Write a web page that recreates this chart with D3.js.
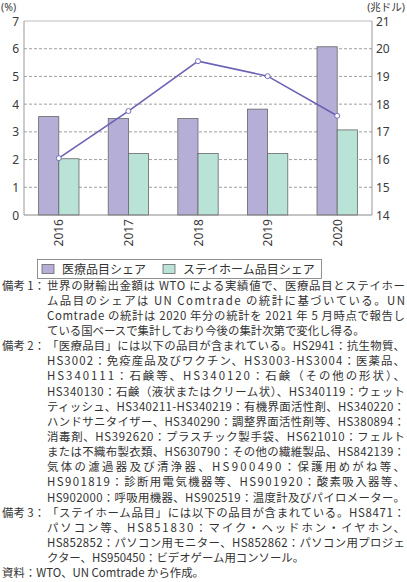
<!DOCTYPE html>
<html>
<head>
<meta charset="utf-8">
<script src="https://cdn.jsdelivr.net/npm/d3@7"></script>
<style>
  body { margin: 0; background: #fff; }
  text { font-family: "Noto Sans CJK JP", "Noto Sans", sans-serif; fill: #333; }
  text.num { font-family: "Noto Sans", "Noto Sans CJK JP", sans-serif; fill: #3a3a3a; }
</style>
</head>
<body>
<svg width="407" height="582"></svg>
<script>
let years = ['2016', '2017', '2018', '2019', '2020'];
let medicalShare = [3.55, 3.48, 3.48, 3.82, 6.07];
let stayHomeShare = [2.03, 2.22, 2.22, 2.22, 3.07];
let exportTotal = [16.05, 17.75, 19.55, 19.01, 17.58];
let leftTicks = [0, 1, 2, 3, 4, 5, 6, 7];
let rightTicks = [14, 15, 16, 17, 18, 19, 20, 21];
let seriesNames = ['医療品目シェア', 'ステイホーム品目シェア'];

// notes: [label, lines, lastLineJustified]
let notes = [
  ['備考 1：', [
    '世界の財輸出金額は WTO による実績値で、医療品目とステイホー',
    'ム品目のシェアは UN Comtrade の統計に基づいている。UN',
    'Comtrade の統計は 2020 年分の統計を 2021 年 5 月時点で報告し',
    'ている国ベースで集計しており今後の集計次第で変化し得る。'], false],
  ['備考 2：', [
    '「医療品目」には以下の品目が含まれている。HS2941：抗生物質、',
    'HS3002：免疫産品及びワクチン、HS3003-HS3004：医薬品、',
    'HS340111：石鹸等、HS340120：石鹸（その他の形状）、',
    'HS340130：石鹸（液状またはクリーム状）、HS340119：ウェット',
    'ティッシュ、HS340211-HS340219：有機界面活性剤、HS340220：',
    'ハンドサニタイザー、HS340290：調整界面活性剤等、HS380894：',
    '消毒剤、HS392620：プラスチック製手袋、HS621010：フェルト',
    'または不織布製衣類、HS630790：その他の繊維製品、HS842139：',
    '気体の濾過器及び清浄器、HS900490：保護用めがね等、',
    'HS901819：診断用電気機器等、HS901920：酸素吸入器等、',
    'HS902000：呼吸用機器、HS902519：温度計及びパイロメーター。'], true],
  ['備考 3：', [
    '「ステイホーム品目」には以下の品目が含まれている。HS8471：',
    'パソコン等、HS851830：マイク・ヘッドホン・イヤホン、',
    'HS852852：パソコン用モニター、HS852862：パソコン用プロジェ',
    'クター、HS950450：ビデオゲーム用コンソール。'], false]
];
let source = '資料：WTO、UN Comtrade から作成。';

let svg = d3.select('svg');
let plotL = 24, plotR = 372, plotT = 21, plotB = 215;

let x0 = d3.scaleBand().domain(years).range([plotL, plotR]).paddingInner(0.42).paddingOuter(0.21);
let x1 = d3.scaleBand().domain([0, 1]).range([0, x0.bandwidth()]);
let yL = d3.scaleLinear().domain([0, 7]).range([plotB, plotT]);
let yR = d3.scaleLinear().domain([14, 21]).range([plotB, plotT]);
let fills = ['#b5aed6', '#b9e3d6'];

// gridlines
svg.append('g').selectAll('line').data(leftTicks.filter(d => d > 0 && d < 7)).enter()
  .append('line')
  .attr('x1', plotL).attr('x2', plotR)
  .attr('y1', d => yL(d)).attr('y2', d => yL(d))
  .attr('stroke', '#888').attr('stroke-width', 0.8).attr('stroke-dasharray', '3,2');

// frame
svg.append('line').attr('x1', plotL).attr('x2', plotR).attr('y1', plotT).attr('y2', plotT)
  .attr('stroke', '#bbb').attr('stroke-width', 1);
svg.append('line').attr('x1', plotL).attr('x2', plotL).attr('y1', plotT).attr('y2', plotB)
  .attr('stroke', '#999').attr('stroke-width', 1);
svg.append('line').attr('x1', plotR).attr('x2', plotR).attr('y1', plotT).attr('y2', plotB)
  .attr('stroke', '#999').attr('stroke-width', 1);

// bars
let groups = svg.append('g').selectAll('g').data(years).enter()
  .append('g').attr('transform', d => 'translate(' + x0(d) + ',0)');
groups.selectAll('rect').data((d, i) => [medicalShare[i], stayHomeShare[i]]).enter()
  .append('rect')
  .attr('x', (d, j) => x1(j))
  .attr('y', d => yL(d))
  .attr('width', x1.bandwidth())
  .attr('height', d => yL(0) - yL(d))
  .attr('fill', (d, j) => fills[j])
  .attr('stroke', '#666').attr('stroke-width', 0.8);

svg.append('line').attr('x1', plotL).attr('x2', plotR).attr('y1', plotB).attr('y2', plotB)
  .attr('stroke', '#888').attr('stroke-width', 1);

// line series
let cx = d => x0(d) + x0.bandwidth() / 2;
let line = d3.line().x((d, i) => cx(years[i])).y(d => yR(d));
svg.append('path').datum(exportTotal).attr('d', line)
  .attr('fill', 'none').attr('stroke', '#6a62b4').attr('stroke-width', 1.6);
svg.append('g').selectAll('circle').data(exportTotal).enter()
  .append('circle')
  .attr('cx', (d, i) => cx(years[i])).attr('cy', d => yR(d)).attr('r', 2.5)
  .attr('fill', '#fff').attr('stroke', '#6a62b4').attr('stroke-width', 0.9);

// axes labels
svg.append('g').selectAll('text').data(leftTicks).enter()
  .append('text').attr('class', 'num')
  .attr('x', 19).attr('y', d => yL(d) + 4.5)
  .attr('text-anchor', 'end').attr('font-size', 12).text(d => d);
svg.append('g').selectAll('text').data(rightTicks).enter()
  .append('text').attr('class', 'num')
  .attr('x', 376).attr('y', d => yR(d) + 4.5)
  .attr('font-size', 12).text(d => d);
svg.append('text').attr('class', 'num').attr('x', 1).attr('y', 11.2).attr('font-size', 10.5).text('(%)');
svg.append('text').attr('class', 'num').attr('x', 405).attr('y', 11.2).attr('text-anchor', 'end')
  .attr('font-size', 10.5).text('(兆ドル)');

svg.append('g').selectAll('text').data(years).enter()
  .append('text').attr('class', 'num')
  .attr('transform', d => 'translate(' + (cx(d) + 4.5) + ',219) rotate(-90)')
  .attr('text-anchor', 'end').attr('font-size', 12).text(d => d);

// legend
let lg = svg.append('g');
lg.append('rect').attr('x', 37.5).attr('y', 259.5).attr('width', 284).attr('height', 19)
  .attr('fill', '#fff').attr('stroke', '#777').attr('stroke-width', 0.8);
let legendX = [42, 163];
seriesNames.forEach(function(name, i) {
  lg.append('rect').attr('x', legendX[i]).attr('y', 264.5).attr('width', 12).attr('height', 9)
    .attr('fill', fills[i]).attr('stroke', '#666').attr('stroke-width', 0.8);
  lg.append('text').attr('x', legendX[i] + 20).attr('y', 273.5).attr('font-size', 12).text(name);
});

// notes
let fs = 11.4, lh = 15.15, ny = 289.5;
let bodyX = 47, bodyW = 405 - 47;
let ng = svg.append('g').attr('font-size', fs);
notes.forEach(function(n) {
  ng.append('text').attr('x', 2).attr('y', ny).text(n[0]);
  n[1].forEach(function(l, k) {
    let t = ng.append('text').attr('x', bodyX).attr('y', ny).text(l);
    if (k < n[1].length - 1 || n[2]) {
      t.attr('textLength', bodyW).attr('lengthAdjust', 'spacing');
    }
    ny += lh;
  });
});
ng.append('text').attr('x', 2).attr('y', ny).text(source);
</script>
</body>
</html>
